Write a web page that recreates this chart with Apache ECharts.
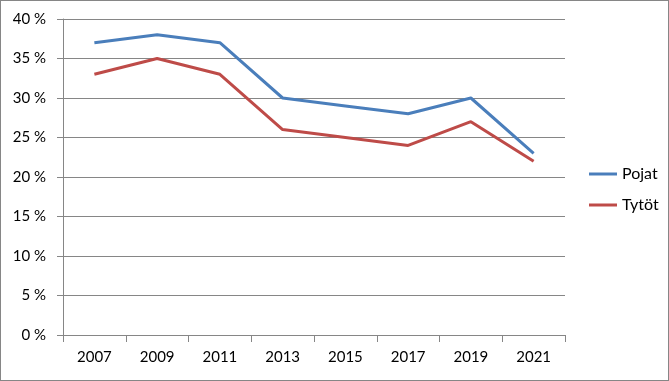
<!DOCTYPE html>
<html><head><meta charset="utf-8">
<style>html,body{margin:0;padding:0;background:#fff}#c{width:669px;height:381px;box-sizing:border-box;border:1px solid #868686}</style>
<script src="https://cdn.jsdelivr.net/npm/echarts@6/dist/echarts.min.js"></script>
</head><body><div id="c"></div>
<script>
var years = ['2007','2009','2011','2013','2015','2017','2019','2021'];
var pojat = [37, 38, 37, 30, 29, 28, 30, 23];
var tytot = [33, 35, 33, 26, 25, 24, 27, 22];
var chart = echarts.init(document.getElementById('c'));
var font = 'Lato, "Open Sans", sans-serif';
chart.setOption({
  animation:false,
  grid:{left:62,top:18,width:502,height:316},
  legend:{
    orient:'vertical', left:583, top:160, itemGap:15,
    itemWidth:28, itemHeight:3, icon:'rect',
    textStyle:{fontFamily:font,fontSize:16,color:'#000'},
    data:['Pojat','Tytöt']
  },
  xAxis:{
    type:'category', data:years, boundaryGap:true,
    axisLine:{lineStyle:{color:'#868686',width:1}},
    axisTick:{show:true,length:7,lineStyle:{color:'#868686'}},
    axisLabel:{fontFamily:font,fontSize:15,color:'#000',margin:15}
  },
  yAxis:{
    type:'value', min:0, max:40, interval:5,
    axisLine:{show:true,lineStyle:{color:'#868686',width:1}},
    axisTick:{show:true,length:6,lineStyle:{color:'#868686'}},
    splitLine:{lineStyle:{color:'#868686',width:1}},
    axisLabel:{fontFamily:font,fontSize:15,color:'#000',margin:17,
      formatter:function(v){return v+' %';}}
  },
  series:[
    {name:'Pojat',type:'line',data:pojat,symbol:'none',
     lineStyle:{color:'#4a7ebb',width:3},itemStyle:{color:'#4a7ebb'}},
    {name:'Tytöt',type:'line',data:tytot,symbol:'none',
     lineStyle:{color:'#be4b48',width:3},itemStyle:{color:'#be4b48'}}
  ]
});
</script></body></html>
